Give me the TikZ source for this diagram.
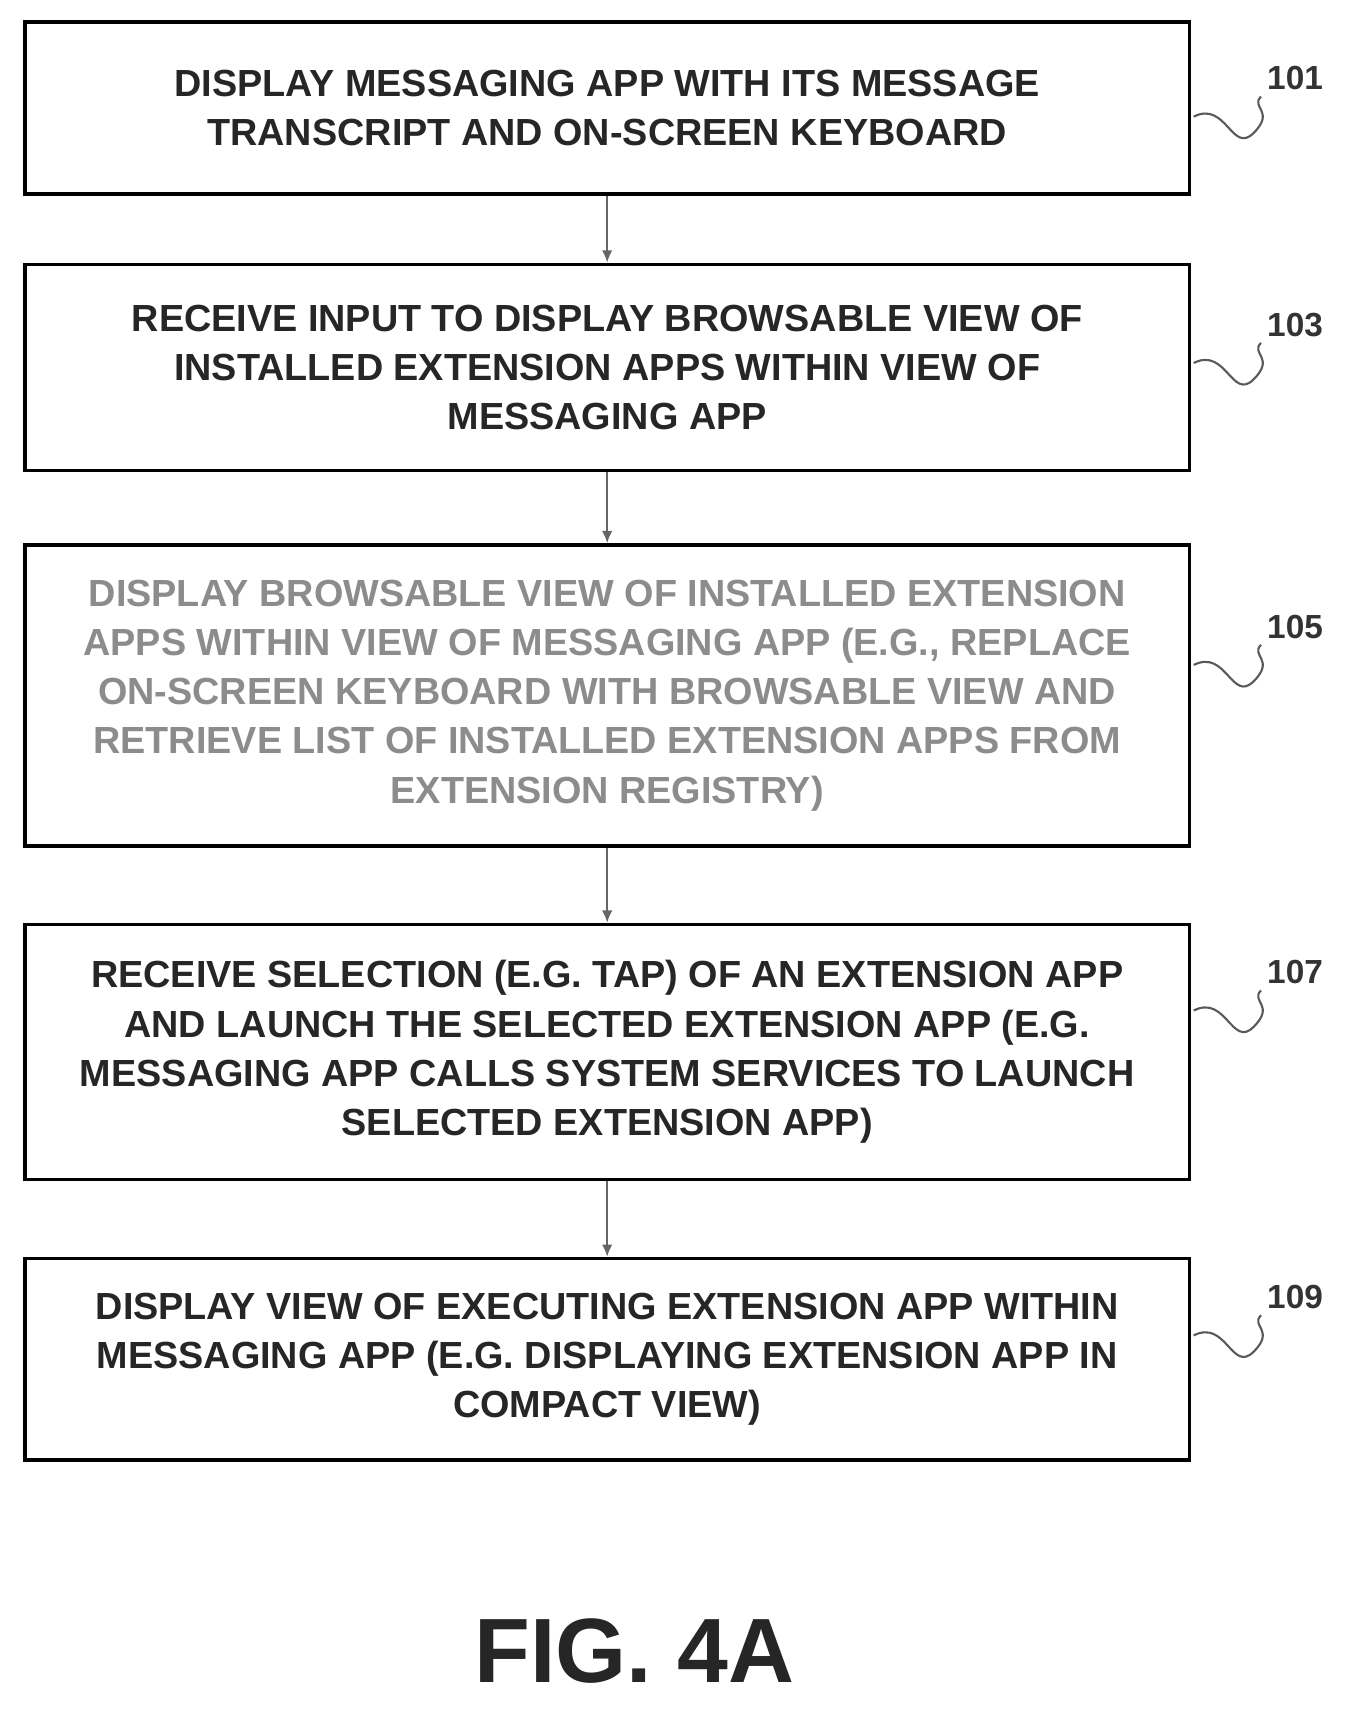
\documentclass[tikz,border=0pt]{standalone}
\usepackage{fontspec}
\setmainfont{Liberation Sans}
\usetikzlibrary{arrows.meta}
\begin{document}
\begin{tikzpicture}[x=0.0218cm,y=-0.0218cm]
			\tikzstyle{fleche}=[-{Latex[length=7pt,width=6pt]},line width=1.2pt,gray!80!black]
			\tikzstyle{boite}=[draw,line width=2pt,minimum width=23.3cm,align=center,font=\fontsize{21.5}{28}\selectfont\bfseries,text=black!85]
			\tikzstyle{repere}=[font=\fontsize{19}{22}\selectfont\bfseries,text=black!80]
			\tikzstyle{vague}=[line width=1.2pt,gray!70!black]
			\def\Milieu{557}
			\useasboundingbox (0,0) rectangle (1245,1576);
			\node[boite,minimum height=3.44cm] (b101) at (\Milieu,99) {DISPLAY MESSAGING APP WITH ITS MESSAGE\\TRANSCRIPT AND ON-SCREEN KEYBOARD};
			\node[boite,minimum height=4.12cm] (b103) at (\Milieu,337) {RECEIVE INPUT TO DISPLAY BROWSABLE VIEW OF\\INSTALLED EXTENSION APPS WITHIN VIEW OF\\MESSAGING APP};
			\node[boite,minimum height=6.02cm,text=black!45] (b105) at (\Milieu,638) {DISPLAY BROWSABLE VIEW OF INSTALLED EXTENSION\\APPS WITHIN VIEW OF MESSAGING APP (E.G., REPLACE\\ON-SCREEN KEYBOARD WITH BROWSABLE VIEW AND\\RETRIEVE LIST OF INSTALLED EXTENSION APPS FROM\\EXTENSION REGISTRY)};
			\node[boite,minimum height=5.10cm] (b107) at (\Milieu,965) {RECEIVE SELECTION (E.G. TAP) OF AN EXTENSION APP\\AND LAUNCH THE SELECTED EXTENSION APP (E.G.\\MESSAGING APP CALLS SYSTEM SERVICES TO LAUNCH\\SELECTED EXTENSION APP)};
			\node[boite,minimum height=4.03cm] (b109) at (\Milieu,1247) {DISPLAY VIEW OF EXECUTING EXTENSION APP WITHIN\\MESSAGING APP (E.G. DISPLAYING EXTENSION APP IN\\COMPACT VIEW)};
			\draw[fleche] (b101)--(b103);
			\draw[fleche] (b103)--(b105);
			\draw[fleche] (b105)--(b107);
			\draw[fleche] (b107)--(b109);
			\foreach \n/\y in {101/72,103/298,105/575,107/892,109/1190}{
				\node[repere] (l\n) at (1188,\y) {\n};
				\coordinate (v\n) at (1095,\y+35);
				\draw[vague] (v\n) .. controls +(30,-15) and +(-20,20) .. ++(55,15) .. controls +(20,-20) and +(-10,10) .. (l\n.south west);
			}
			\node[font=\fontsize{52}{52}\selectfont\bfseries,text=black!85] (fig) at (582,1515) {FIG. 4A};
		\end{tikzpicture}
\end{document}
